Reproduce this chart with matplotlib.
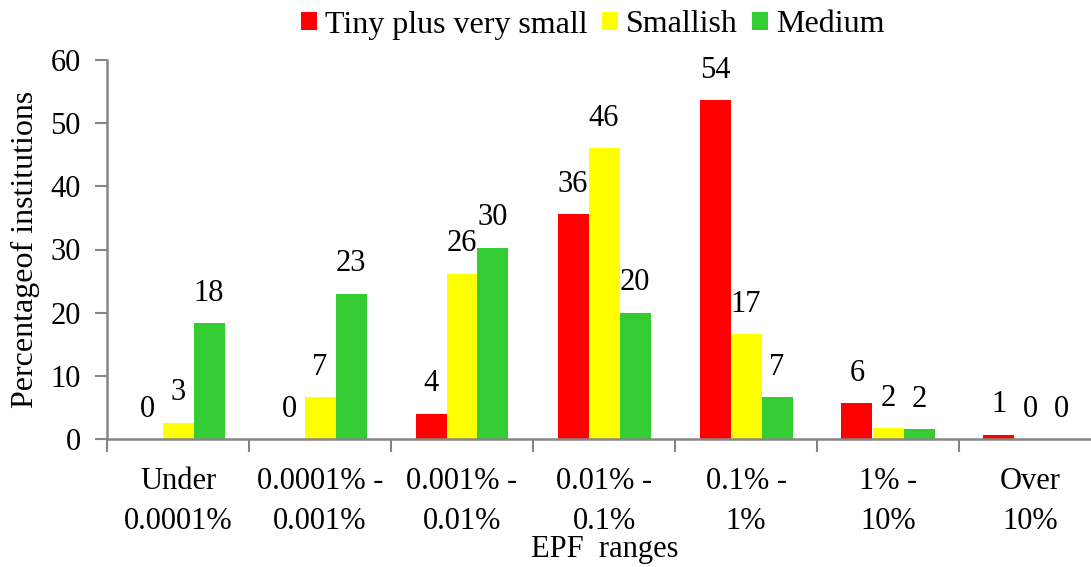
import matplotlib
matplotlib.use("Agg")
import matplotlib.pyplot as plt
import numpy as np

categories = ["Under\n0.0001%", "0.0001% -\n0.001%", "0.001% -\n0.01%",
              "0.01% -\n0.1%", "0.1% -\n1%", "1% -\n10%", "Over\n10%"]
tiny = [0.0, 0.0, 4.0, 35.6, 53.7, 5.7, 0.7]
smallish = [2.6, 6.6, 26.2, 46.0, 16.6, 1.7, 0.0]
medium = [18.3, 23.0, 30.3, 20.0, 6.6, 1.6, 0.0]
series_names = ["Tiny plus very small", "Smallish", "Medium"]
colors = ["#FF0000", "#FFFF00", "#33CC33"]

plt.rcParams['font.family'] = ['Liberation Serif', 'DejaVu Serif']
W, H = 1091, 567
fig = plt.figure(figsize=(W / 100, H / 100), dpi=100)
ax = fig.add_axes([107 / W, 128 / H, 994 / W, 379 / H])

x = np.arange(len(categories))
bw = 31 / 142
for i, (vals, name, c) in enumerate(zip([tiny, smallish, medium], series_names, colors)):
    bars = ax.bar(x + (i - 1) * bw, vals, width=bw, color=c, label=name, linewidth=0)
    ax.bar_label(bars, labels=[str(int(v + 0.5)) for v in vals], padding=11,
                 fontsize=22, color="black")

ax.set_xlim(-0.5, len(categories) - 0.5)
ax.set_ylim(0, 60)
ax.set_yticks(np.arange(0, 61, 10))
ax.set_xticks(np.arange(-0.5, len(categories), 1.0))
ax.set_xticklabels([])
ax.set_xticks(x, minor=True)
ax.set_xticklabels(categories, minor=True, fontsize=22, linespacing=1.5)
ax.tick_params(axis='x', which='minor', length=0, pad=20)
ax.tick_params(axis='x', which='major', length=9, width=1.5, color="#868686", direction='out')
ax.tick_params(axis='y', length=9, width=1.5, color="#868686", direction='out', labelsize=22, pad=10)

for s in ["top", "right"]:
    ax.spines[s].set_visible(False)
for s in ["left", "bottom"]:
    ax.spines[s].set_color("#868686")
    ax.spines[s].set_linewidth(1.8)

ax.set_ylabel("Percentageof institutions", fontsize=23)
ax.yaxis.set_label_coords((25 - 107) / 994, 0.5)
ax.yaxis.label.set_va("center")
ax.set_xlabel("EPF  ranges", fontsize=22)
ax.xaxis.set_label_coords((605 - 107) / 994, -(550 - 439) / 379)
ax.xaxis.label.set_va("center")

leg = fig.legend(loc="center", bbox_to_anchor=(593 / W, 1 - 25 / H), ncol=3, frameon=False,
                 fontsize=23, handlelength=0.5, handleheight=0.5, handletextpad=0.25,
                 columnspacing=0.45)

fig.savefig("out.png", dpi=100)
